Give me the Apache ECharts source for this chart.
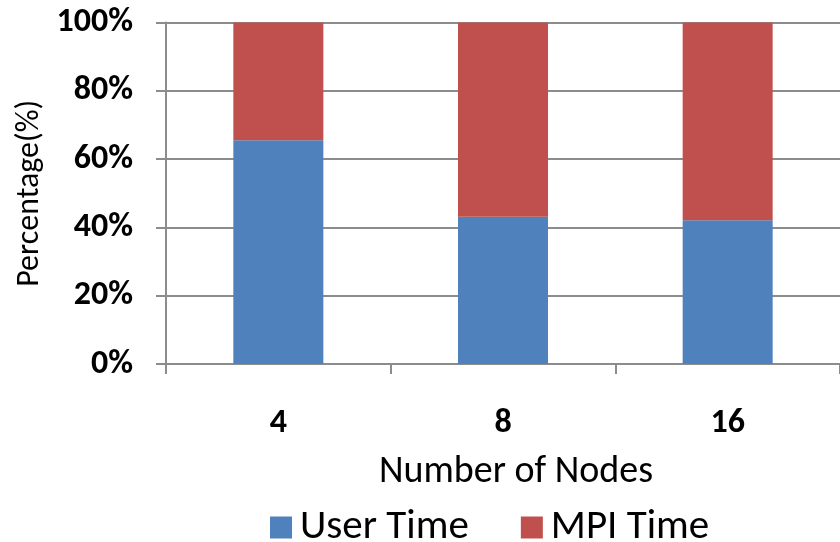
<!DOCTYPE html>
<html><head><meta charset="utf-8">
<script src="https://cdn.jsdelivr.net/npm/echarts@6/dist/echarts.min.js"></script>
<style>html,body{margin:0;padding:0;background:#fff}#c{width:840px;height:542px}</style>
</head><body><div id="c"></div>
<script>
const categories = ['4', '8', '16'];
const userTime = [65.5, 43.1, 42.1];
const mpiTime = [34.5, 56.9, 57.9];
const yTicks = [0, 20, 40, 60, 80, 100];

const FONT = 'Carlito, Lato, sans-serif';
const chart = echarts.init(document.getElementById('c'), null, {renderer: 'canvas'});
chart.setOption({
  animation: false,
  textStyle: {fontFamily: FONT},
  grid: {left: 166, top: 22.5, width: 678, bottom: 178, containLabel: false},
  legend: {
    data: ['User Time', 'MPI Time'],
    top: 502, left: 265,
    itemWidth: 22, itemHeight: 22, itemGap: 52,
    icon: 'rect',
    textStyle: {fontSize: 41, color: '#000', fontFamily: FONT, padding: [0, 0, 0, 3]}
  },
  xAxis: {
    type: 'category', data: categories,
    name: 'Number of Nodes', nameLocation: 'middle', nameGap: 89,
    nameTextStyle: {fontSize: 38, color: '#000', fontFamily: FONT, padding: [0, 0, 0, 26]},
    axisLine: {lineStyle: {color: '#8c8c8c', width: 2}},
    axisTick: {show: true, length: 10, lineStyle: {color: '#8c8c8c', width: 2}},
    axisLabel: {fontSize: 34, color: '#000', fontWeight: 'bold', margin: 42, fontFamily: FONT}
  },
  yAxis: {
    type: 'value', min: 0, max: 100, interval: 20,
    name: 'Percentage(%)', nameLocation: 'middle', nameGap: 119, nameRotate: 90,
    nameTextStyle: {fontSize: 32, color: '#000', fontFamily: FONT},
    axisLine: {show: true, lineStyle: {color: '#8c8c8c', width: 2}},
    axisTick: {show: true, length: 10, lineStyle: {color: '#8c8c8c', width: 2}},
    splitLine: {show: true, lineStyle: {color: '#8c8c8c', width: 2}},
    axisLabel: {fontSize: 34, color: '#000', fontWeight: 'bold', margin: 33, fontFamily: FONT,
      formatter: v => v + '%'}
  },
  series: [
    {name: 'User Time', type: 'bar', stack: 'a', data: userTime, barWidth: 90,
     itemStyle: {color: '#4f81bd'}},
    {name: 'MPI Time', type: 'bar', stack: 'a', data: mpiTime, barWidth: 90,
     itemStyle: {color: '#c0504d'}}
  ]
});
</script></body></html>
